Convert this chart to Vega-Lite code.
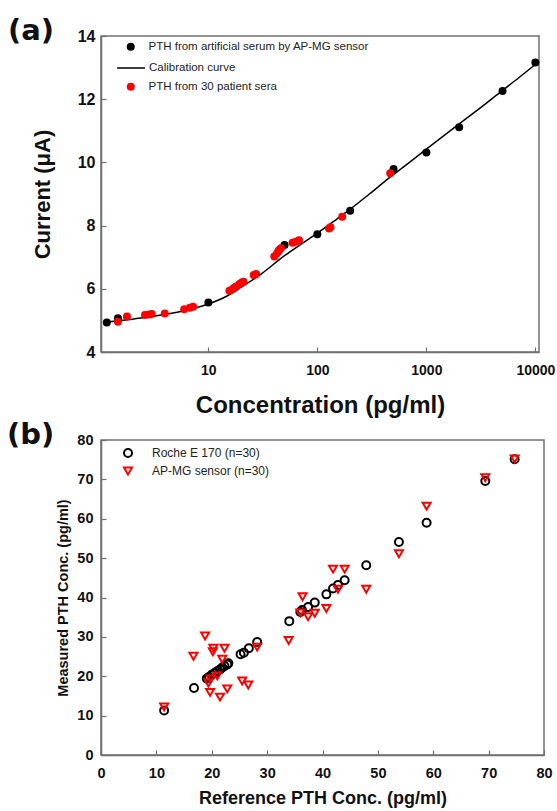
{
  "$schema": "https://vega.github.io/schema/vega-lite/v6.json",
  "background": "white",
  "padding": {"left": 6, "top": 16, "right": 0, "bottom": 0},
  "columns": 1,
  "align": "none",
  "spacing": 2,
  "resolve": {
    "scale": {"color": "independent", "shape": "independent", "x": "independent", "y": "independent"},
    "legend": {"color": "independent", "shape": "independent"}
  },
  "config": {
    "view": {"stroke": "#707070", "strokeWidth": 1.5},
    "axis": {
      "grid": false,
      "domainColor": "#707070",
      "domainWidth": 1.5,
      "tickColor": "#707070",
      "tickWidth": 1.2,
      "tickSize": -5,
      "labelFont": "Liberation Sans",
      "labelFontWeight": "bold",
      "labelColor": "#111111",
      "titleFont": "Liberation Sans",
      "titleFontWeight": "bold",
      "titleColor": "#111111",
      "labelFlush": false
    },
    "legend": {"labelFont": "Liberation Sans", "labelColor": "#222222", "padding": 0, "labelLimit": 0},
    "title": {"font": "DejaVu Sans", "fontWeight": "bold", "fontSize": 29, "color": "#111111", "anchor": "start", "frame": "group"}
  },
  "datasets": {
    "calib": [
      {"conc": 1.17, "current": 4.95},
      {"conc": 1.5, "current": 4.99},
      {"conc": 2, "current": 5.04},
      {"conc": 3, "current": 5.12},
      {"conc": 5, "current": 5.25},
      {"conc": 7, "current": 5.36},
      {"conc": 10, "current": 5.52},
      {"conc": 15, "current": 5.78},
      {"conc": 20, "current": 6.05},
      {"conc": 30, "current": 6.45},
      {"conc": 50, "current": 7.05},
      {"conc": 70, "current": 7.4},
      {"conc": 100, "current": 7.76},
      {"conc": 150, "current": 8.2},
      {"conc": 200, "current": 8.52},
      {"conc": 300, "current": 9.0},
      {"conc": 500, "current": 9.62},
      {"conc": 700, "current": 10.0},
      {"conc": 1000, "current": 10.42},
      {"conc": 2000, "current": 11.22},
      {"conc": 3000, "current": 11.68},
      {"conc": 5000, "current": 12.28},
      {"conc": 7000, "current": 12.67},
      {"conc": 10000, "current": 13.1}
    ],
    "serum": [
      {"conc": 1.17, "current": 4.93},
      {"conc": 1.48, "current": 5.07},
      {"conc": 10, "current": 5.57},
      {"conc": 50, "current": 7.39},
      {"conc": 100, "current": 7.73},
      {"conc": 200, "current": 8.47},
      {"conc": 500, "current": 9.79},
      {"conc": 1000, "current": 10.31},
      {"conc": 2000, "current": 11.11},
      {"conc": 5000, "current": 12.26},
      {"conc": 10000, "current": 13.16}
    ],
    "patients": [
      {"conc": 1.48, "current": 4.96},
      {"conc": 1.79, "current": 5.12},
      {"conc": 2.62, "current": 5.17},
      {"conc": 2.86, "current": 5.19},
      {"conc": 3.02, "current": 5.2},
      {"conc": 3.98, "current": 5.22},
      {"conc": 6.0, "current": 5.35},
      {"conc": 6.76, "current": 5.4},
      {"conc": 7.25, "current": 5.43},
      {"conc": 15.6, "current": 5.94},
      {"conc": 16.8, "current": 6.0},
      {"conc": 17.4, "current": 6.03},
      {"conc": 18.0, "current": 6.07},
      {"conc": 19.3, "current": 6.15},
      {"conc": 20.3, "current": 6.2},
      {"conc": 21, "current": 6.22},
      {"conc": 26.1, "current": 6.44},
      {"conc": 27.4, "current": 6.47},
      {"conc": 40.3, "current": 7.02},
      {"conc": 42.6, "current": 7.12},
      {"conc": 44.0, "current": 7.2},
      {"conc": 44.7, "current": 7.23},
      {"conc": 46.3, "current": 7.28},
      {"conc": 59.2, "current": 7.46},
      {"conc": 63.4, "current": 7.49},
      {"conc": 67.9, "current": 7.54},
      {"conc": 128, "current": 7.91},
      {"conc": 132, "current": 7.95},
      {"conc": 169, "current": 8.28},
      {"conc": 466, "current": 9.66}
    ],
    "pointsB": [
      {"ref": 11.4, "meas": 11.3, "series": "Roche E 170 (n=30)"},
      {"ref": 16.8, "meas": 17.0, "series": "Roche E 170 (n=30)"},
      {"ref": 19.1, "meas": 19.4, "series": "Roche E 170 (n=30)"},
      {"ref": 19.5, "meas": 19.8, "series": "Roche E 170 (n=30)"},
      {"ref": 20.0, "meas": 20.4, "series": "Roche E 170 (n=30)"},
      {"ref": 20.5, "meas": 20.8, "series": "Roche E 170 (n=30)"},
      {"ref": 21.0, "meas": 21.3, "series": "Roche E 170 (n=30)"},
      {"ref": 21.5, "meas": 21.7, "series": "Roche E 170 (n=30)"},
      {"ref": 21.9, "meas": 22.2, "series": "Roche E 170 (n=30)"},
      {"ref": 22.3, "meas": 22.6, "series": "Roche E 170 (n=30)"},
      {"ref": 22.8, "meas": 23.0, "series": "Roche E 170 (n=30)"},
      {"ref": 25.2, "meas": 25.6, "series": "Roche E 170 (n=30)"},
      {"ref": 25.8, "meas": 26.0, "series": "Roche E 170 (n=30)"},
      {"ref": 26.7, "meas": 27.1, "series": "Roche E 170 (n=30)"},
      {"ref": 28.2, "meas": 28.7, "series": "Roche E 170 (n=30)"},
      {"ref": 34.0, "meas": 34.0, "series": "Roche E 170 (n=30)"},
      {"ref": 36.3, "meas": 36.8, "series": "Roche E 170 (n=30)"},
      {"ref": 37.4, "meas": 37.6, "series": "Roche E 170 (n=30)"},
      {"ref": 38.6, "meas": 38.7, "series": "Roche E 170 (n=30)"},
      {"ref": 40.7, "meas": 40.8, "series": "Roche E 170 (n=30)"},
      {"ref": 41.9, "meas": 42.3, "series": "Roche E 170 (n=30)"},
      {"ref": 42.8, "meas": 43.2, "series": "Roche E 170 (n=30)"},
      {"ref": 44.0, "meas": 44.4, "series": "Roche E 170 (n=30)"},
      {"ref": 47.9, "meas": 48.2, "series": "Roche E 170 (n=30)"},
      {"ref": 53.8, "meas": 54.1, "series": "Roche E 170 (n=30)"},
      {"ref": 58.8, "meas": 59.0, "series": "Roche E 170 (n=30)"},
      {"ref": 69.4, "meas": 69.6, "series": "Roche E 170 (n=30)"},
      {"ref": 74.7, "meas": 75.1, "series": "Roche E 170 (n=30)"},
      {"ref": 23.0, "meas": 23.3, "series": "Roche E 170 (n=30)"},
      {"ref": 36.0, "meas": 36.3, "series": "Roche E 170 (n=30)"},
      {"ref": 11.4, "meas": 12.2, "series": "AP-MG sensor (n=30)"},
      {"ref": 16.7, "meas": 25.1, "series": "AP-MG sensor (n=30)"},
      {"ref": 18.8, "meas": 30.2, "series": "AP-MG sensor (n=30)"},
      {"ref": 19.4, "meas": 18.3, "series": "AP-MG sensor (n=30)"},
      {"ref": 19.8, "meas": 19.3, "series": "AP-MG sensor (n=30)"},
      {"ref": 19.7, "meas": 15.9, "series": "AP-MG sensor (n=30)"},
      {"ref": 20.3, "meas": 27.1, "series": "AP-MG sensor (n=30)"},
      {"ref": 20.2, "meas": 26.2, "series": "AP-MG sensor (n=30)"},
      {"ref": 21.0, "meas": 20.1, "series": "AP-MG sensor (n=30)"},
      {"ref": 21.5, "meas": 14.7, "series": "AP-MG sensor (n=30)"},
      {"ref": 21.9, "meas": 24.3, "series": "AP-MG sensor (n=30)"},
      {"ref": 22.3, "meas": 27.1, "series": "AP-MG sensor (n=30)"},
      {"ref": 22.8, "meas": 16.8, "series": "AP-MG sensor (n=30)"},
      {"ref": 25.5, "meas": 18.8, "series": "AP-MG sensor (n=30)"},
      {"ref": 26.6, "meas": 17.8, "series": "AP-MG sensor (n=30)"},
      {"ref": 28.2, "meas": 27.4, "series": "AP-MG sensor (n=30)"},
      {"ref": 33.9, "meas": 29.1, "series": "AP-MG sensor (n=30)"},
      {"ref": 36.0, "meas": 36.1, "series": "AP-MG sensor (n=30)"},
      {"ref": 36.4, "meas": 40.2, "series": "AP-MG sensor (n=30)"},
      {"ref": 37.4, "meas": 35.1, "series": "AP-MG sensor (n=30)"},
      {"ref": 38.6, "meas": 36.0, "series": "AP-MG sensor (n=30)"},
      {"ref": 40.7, "meas": 37.2, "series": "AP-MG sensor (n=30)"},
      {"ref": 41.9, "meas": 47.2, "series": "AP-MG sensor (n=30)"},
      {"ref": 42.8, "meas": 42.1, "series": "AP-MG sensor (n=30)"},
      {"ref": 44.0, "meas": 47.2, "series": "AP-MG sensor (n=30)"},
      {"ref": 47.9, "meas": 42.1, "series": "AP-MG sensor (n=30)"},
      {"ref": 53.8, "meas": 51.1, "series": "AP-MG sensor (n=30)"},
      {"ref": 58.8, "meas": 63.2, "series": "AP-MG sensor (n=30)"},
      {"ref": 69.4, "meas": 70.4, "series": "AP-MG sensor (n=30)"},
      {"ref": 74.7, "meas": 75.2, "series": "AP-MG sensor (n=30)"}
    ]
  },
  "concat": [
    {
      "width": 438,
      "height": 316,
      "title": {"text": "(a)", "dx": -93, "offset": -18},
      "encoding": {
        "x": {
          "field": "conc", "type": "quantitative",
          "scale": {"type": "log", "domain": [1.035, 10800], "nice": false},
          "axis": {"values": [10, 100, 1000, 10000], "format": "d", "labelFontSize": 14, "labelPadding": 16, "title": "Concentration (pg/ml)", "titleFontSize": 24, "titlePadding": 16}
        },
        "y": {
          "field": "current", "type": "quantitative",
          "scale": {"domain": [4, 14], "nice": false},
          "axis": {"values": [4, 6, 8, 10, 12, 14], "labelFontSize": 16, "labelPadding": 11, "title": "Current (μA)", "titleFontSize": 22, "titlePadding": 23}
        }
      },
      "layer": [
        {
          "data": {"name": "calib"},
          "mark": {"type": "line", "strokeWidth": 1.5, "interpolate": "monotone"},
          "encoding": {
            "color": {
              "datum": "Calibration curve", "type": "nominal",
              "scale": {"range": ["#000000"]},
              "legend": {"title": null, "orient": "none", "legendX": 15, "legendY": 17, "symbolType": "stroke", "symbolSize": 784, "symbolStrokeWidth": 1.5, "labelOffset": 3, "labelFontSize": 11.5}
            }
          }
        },
        {
          "data": {"name": "serum"},
          "mark": {"type": "point", "filled": true, "size": 64, "opacity": 1},
          "encoding": {
            "color": {
              "datum": "PTH from artificial serum by AP-MG sensor", "type": "nominal",
              "scale": {"range": ["#000000"]},
              "legend": {"title": null, "orient": "none", "legendX": 24, "legendY": 5, "symbolSize": 64, "labelOffset": 12, "labelFontSize": 11.5}
            }
          }
        },
        {
          "data": {"name": "patients"},
          "mark": {"type": "point", "filled": true, "size": 64, "opacity": 1},
          "encoding": {
            "color": {
              "datum": "PTH from 30 patient sera", "type": "nominal",
              "scale": {"range": ["#ff0000"]},
              "legend": {"title": null, "orient": "none", "legendX": 24, "legendY": 45, "symbolSize": 64, "labelOffset": 12, "labelFontSize": 11.5}
            }
          }
        }
      ],
      "resolve": {"scale": {"color": "independent"}, "legend": {"color": "independent"}}
    },
    {
      "width": 443,
      "height": 315,
      "title": {"text": "(b)", "dx": -94, "offset": -18},
      "mark": {"type": "point", "filled": false, "strokeWidth": 2, "size": 64, "opacity": 1},
      "data": {"name": "pointsB"},
      "encoding": {
        "x": {
          "field": "ref", "type": "quantitative",
          "scale": {"domain": [0, 80], "nice": false},
          "axis": {"values": [0, 10, 20, 30, 40, 50, 60, 70, 80], "labelFontSize": 14.5, "labelPadding": 16, "title": "Reference PTH Conc. (pg/ml)", "titleFontSize": 18, "titlePadding": 10}
        },
        "y": {
          "field": "meas", "type": "quantitative",
          "scale": {"domain": [0, 80], "nice": false},
          "axis": {"values": [0, 10, 20, 30, 40, 50, 60, 70, 80], "labelFontSize": 14.5, "labelPadding": 13, "title": "Measured PTH Conc. (pg/ml)", "titleFontSize": 14.5, "titlePadding": 6}
        },
        "color": {
          "field": "series", "type": "nominal",
          "scale": {"domain": ["Roche E 170 (n=30)", "AP-MG sensor (n=30)"], "range": ["#000000", "#ff0000"]},
          "legend": {"title": null, "orient": "none", "legendX": 21, "legendY": 7, "labelFontSize": 12, "labelOffset": 18, "rowPadding": 2, "symbolSize": 64, "symbolStrokeWidth": 2}
        },
        "shape": {
          "field": "series", "type": "nominal",
          "scale": {"domain": ["Roche E 170 (n=30)", "AP-MG sensor (n=30)"], "range": ["circle", "triangle-down"]},
          "legend": {"title": null, "orient": "none", "legendX": 21, "legendY": 7, "labelFontSize": 12, "labelOffset": 18, "rowPadding": 2, "symbolSize": 64, "symbolStrokeWidth": 2}
        }
      }
    }
  ]
}
